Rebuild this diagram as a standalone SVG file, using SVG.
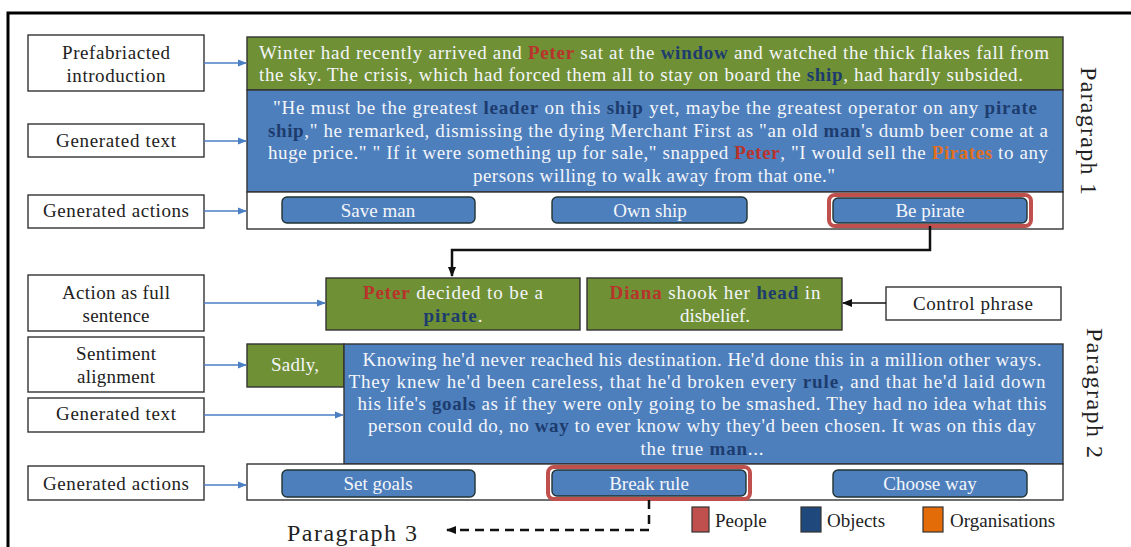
<svg xmlns="http://www.w3.org/2000/svg" width="1131" height="547" viewBox="0 0 1131 547">
<defs>
<style>
text{font-family:"Liberation Serif","Times New Roman",serif;}
.lbl{fill:#fff;stroke:#333;stroke-width:1.4;}
.lt{font-size:19px;fill:#222;text-anchor:middle;}
.green{fill:#6f9035;stroke:#333;stroke-width:1.4;}
.blue{fill:#4e7fbd;stroke:#333;stroke-width:1.4;}
.strip{fill:#fff;stroke:#333;stroke-width:1.4;}
.btn{fill:#4e7fbd;stroke:#233;stroke-width:1.4;}
.hl{fill:none;stroke:#c0504d;stroke-width:4;}
.bt{font-size:19px;fill:#f4f6fa;text-anchor:middle;}
.body{font-size:19px;fill:#f4f6fa;}
.pe{fill:#b8332b;font-weight:bold;}
.ob{fill:#1d3c6e;font-weight:bold;}
.og{fill:#e07020;font-weight:bold;}
.para{font-size:24px;fill:#222;text-anchor:middle;}
.leg{font-size:19px;fill:#222;}
.ba{stroke:#4a7fc4;stroke-width:1.6;fill:none;marker-end:url(#bh);}
.ka{stroke:#111;stroke-width:2.5;fill:none;}
</style>
<marker id="bh" viewBox="0 0 10 10" refX="9" refY="5" markerWidth="9" markerHeight="9" markerUnits="userSpaceOnUse" orient="auto"><path d="M0,1 L10,5 L0,9 z" fill="#4a7fc4"/></marker>
<marker id="kh" viewBox="0 0 10 10" refX="9" refY="5" markerWidth="4" markerHeight="4" orient="auto"><path d="M0,1 L10,5 L0,9 z" fill="#111"/></marker>
<marker id="kh2" viewBox="0 0 10 10" refX="9" refY="5" markerWidth="10" markerHeight="10" markerUnits="userSpaceOnUse" orient="auto"><path d="M0,1 L10,5 L0,9 z" fill="#111"/></marker>
</defs>
<rect x="0" y="0" width="1131" height="547" fill="#fff"/>
<rect x="8" y="13" width="1140" height="560" fill="none" stroke="#000" stroke-width="3"/>

<!-- Paragraph 1 labels -->
<g id="lbl-prefab"><rect class="lbl" x="28" y="35" width="176" height="56"/><text class="lt" x="116" y="59" textLength="108">Prefabriacted</text><text class="lt" x="116" y="82" textLength="99">introduction</text></g>
<g id="lbl-gentext1"><rect class="lbl" x="28" y="124" width="176" height="33"/><text class="lt" x="116" y="147" textLength="120">Generated text</text></g>
<g id="lbl-genact1"><rect class="lbl" x="28" y="195" width="176" height="33"/><text class="lt" x="116" y="217" textLength="146">Generated actions</text></g>

<!-- Paragraph 1 block -->
<g id="p1-intro"><rect class="green" x="247" y="37" width="816" height="53"/>
<text class="body" x="259" y="59" textLength="790" lengthAdjust="spacing">Winter had recently arrived and <tspan class="pe">Peter</tspan> sat at the <tspan class="ob">window</tspan> and watched the thick flakes fall from</text>
<text class="body" x="259" y="81" textLength="764" lengthAdjust="spacing">the sky. The crisis, which had forced them all to stay on board the <tspan class="ob">ship</tspan>, had hardly subsided.</text></g>
<g id="p1-text"><rect class="blue" x="247" y="90" width="816" height="102"/>
<text class="body" x="655" y="114" text-anchor="middle" textLength="764" lengthAdjust="spacing">"He must be the greatest <tspan class="ob">leader</tspan> on this <tspan class="ob">ship</tspan> yet, maybe the greatest operator on any <tspan class="ob">pirate</tspan></text>
<text class="body" x="658" y="137" text-anchor="middle" textLength="780" lengthAdjust="spacing"><tspan class="ob">ship</tspan>," he remarked, dismissing the dying Merchant First as "an old <tspan class="ob">man</tspan>'s dumb beer come at a</text>
<text class="body" x="658" y="159" text-anchor="middle" textLength="780" lengthAdjust="spacing">huge price." " If it were something up for sale," snapped <tspan class="pe">Peter</tspan>, "I would sell the <tspan class="og">Pirates</tspan> to any</text>
<text class="body" x="654" y="182" text-anchor="middle" textLength="362" lengthAdjust="spacing">persons willing to walk away from that one."</text></g>
<g id="p1-actions"><rect class="strip" x="247" y="192" width="816" height="37"/></g>
<g id="act-save-man"><rect class="btn" x="282" y="197" width="193" height="26" rx="5"/><text class="bt" x="378" y="217">Save man</text></g>
<g id="act-own-ship"><rect class="btn" x="552" y="197" width="195" height="26" rx="5"/><text class="bt" x="650" y="217">Own ship</text></g>
<g id="act-be-pirate"><rect class="hl" x="829" y="195" width="202" height="31" rx="6"/><rect class="btn" x="833" y="198" width="194" height="25" rx="5"/><text class="bt" x="930" y="217">Be pirate</text></g>
<g id="para1"><text class="para" transform="translate(1081,131) rotate(90)" textLength="128">Paragraph 1</text></g>

<!-- Paragraph 2 labels -->
<g id="lbl-action-full"><rect class="lbl" x="28" y="275" width="176" height="56"/><text class="lt" x="116" y="299" textLength="108">Action as full</text><text class="lt" x="116" y="322" textLength="67">sentence</text></g>
<g id="lbl-sentiment"><rect class="lbl" x="28" y="337" width="176" height="55"/><text class="lt" x="116" y="360" textLength="80">Sentiment</text><text class="lt" x="116" y="383" textLength="78">alignment</text></g>
<g id="lbl-gentext2"><rect class="lbl" x="28" y="398" width="176" height="34"/><text class="lt" x="116" y="420" textLength="120">Generated text</text></g>
<g id="lbl-genact2"><rect class="lbl" x="28" y="466" width="176" height="34"/><text class="lt" x="116" y="490" textLength="146">Generated actions</text></g>
<g id="lbl-control"><rect class="lbl" x="886" y="287" width="175" height="33"/><text class="lt" x="973" y="310" textLength="120">Control phrase</text></g>

<!-- Paragraph 2 block -->
<g id="p2-action-sentence"><rect class="green" x="326" y="278" width="254" height="52"/>
<text class="body" x="453" y="299" text-anchor="middle" textLength="180" lengthAdjust="spacing"><tspan class="pe">Peter</tspan> decided to be a</text>
<text class="body" x="453" y="322" text-anchor="middle" textLength="59" lengthAdjust="spacing"><tspan class="ob">pirate</tspan>.</text></g>
<g id="p2-control-sentence"><rect class="green" x="587" y="278" width="255" height="52"/>
<text class="body" x="715" y="299" text-anchor="middle" textLength="211" lengthAdjust="spacing"><tspan class="pe">Diana</tspan> shook her <tspan class="ob">head</tspan> in</text>
<text class="body" x="715" y="322" text-anchor="middle" textLength="70" lengthAdjust="spacing">disbelief.</text></g>
<g id="p2-sadly"><rect class="green" x="247" y="344" width="97" height="43"/><text class="bt" x="295" y="371" textLength="48">Sadly,</text></g>
<g id="p2-text"><rect class="blue" x="344" y="344" width="719" height="120"/>
<text class="body" x="702" y="366" text-anchor="middle" textLength="679" lengthAdjust="spacing">Knowing he'd never reached his destination. He'd done this in a million other ways.</text>
<text class="body" x="697" y="388" text-anchor="middle" textLength="697" lengthAdjust="spacing">They knew he'd been careless, that he'd broken every <tspan class="ob">rule</tspan>, and that he'd laid down</text>
<text class="body" x="702" y="410" text-anchor="middle" textLength="689" lengthAdjust="spacing">his life's <tspan class="ob">goals</tspan> as if they were only going to be smashed. They had no idea what this</text>
<text class="body" x="702" y="432" text-anchor="middle" textLength="668" lengthAdjust="spacing">person could do, no <tspan class="ob">way</tspan> to ever know why they'd been chosen. It was on this day</text>
<text class="body" x="702" y="455" text-anchor="middle" textLength="123" lengthAdjust="spacing">the true <tspan class="ob">man</tspan>...</text></g>
<g id="p2-actions"><rect class="strip" x="247" y="464" width="816" height="36"/></g>
<g id="act-set-goals"><rect class="btn" x="282" y="470" width="193" height="27" rx="5"/><text class="bt" x="378" y="490">Set goals</text></g>
<g id="act-break-rule"><rect class="hl" x="548" y="467" width="202" height="32" rx="6"/><rect class="btn" x="552" y="470" width="194" height="26" rx="5"/><text class="bt" x="649" y="490">Break rule</text></g>
<g id="act-choose-way"><rect class="btn" x="833" y="470" width="194" height="27" rx="5"/><text class="bt" x="930" y="490">Choose way</text></g>
<g id="para2"><text class="para" transform="translate(1087,393) rotate(90)" textLength="130">Paragraph 2</text></g>
<g id="para3"><text class="para" x="352" y="541" textLength="130">Paragraph 3</text></g>

<!-- Legend -->
<g id="legend">
<rect x="692" y="507" width="17" height="25" fill="#c0504d" stroke="#333" stroke-width="1.2"/><text class="leg" x="715" y="527">People</text>
<rect x="801" y="507" width="20" height="25" fill="#1f497d" stroke="#333" stroke-width="1.2"/><text class="leg" x="827" y="527">Objects</text>
<rect x="923" y="507" width="20" height="25" fill="#e36c09" stroke="#333" stroke-width="1.2"/><text class="leg" x="950" y="527">Organisations</text>
</g>

<!-- Connectors -->
<g id="connectors">
<line class="ba" x1="204" y1="63" x2="246" y2="63"/>
<line class="ba" x1="204" y1="141" x2="246" y2="141"/>
<line class="ba" x1="204" y1="211" x2="246" y2="211"/>
<line class="ba" x1="204" y1="303" x2="325" y2="303"/>
<line class="ba" x1="204" y1="365" x2="246" y2="365"/>
<line class="ba" x1="204" y1="415" x2="343" y2="415"/>
<line class="ba" x1="204" y1="485" x2="246" y2="485"/>
<line x1="886" y1="303" x2="843" y2="303" stroke="#111" stroke-width="1.6" marker-end="url(#kh2)"/>
<path class="ka" d="M930,226 V250 H452 V276" marker-end="url(#kh)"/>
<path class="ka" d="M649,500 V530 H447" stroke-dasharray="9,6" marker-end="url(#kh)"/>
</g>
</svg>
